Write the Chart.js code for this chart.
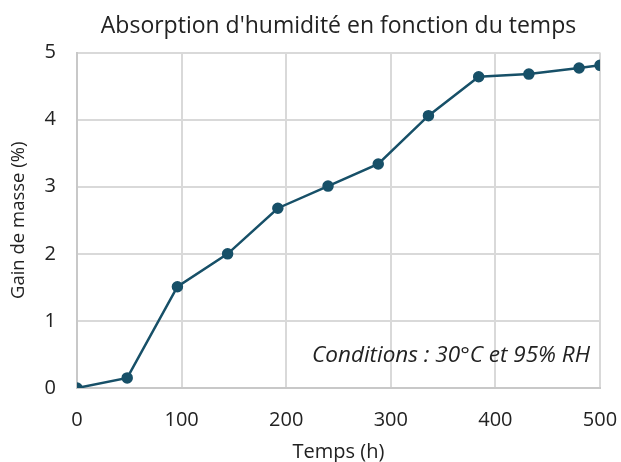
<!DOCTYPE html>
<html>
<head>
<meta charset="utf-8">
<script src="https://cdn.jsdelivr.net/npm/chart.js@4/dist/chart.umd.min.js"></script>
<style>
  html, body { margin: 0; padding: 0; background: #fff; }
  #wrap { width: 621px; height: 462px; }
</style>
</head>
<body>
<div id="wrap"><canvas id="c" width="621" height="462"></canvas></div>
<script>
const hours = [0, 48, 96, 144, 192, 240, 288, 336, 384, 432, 480, 500];
const massGain = [0, 0.15, 1.51, 2.0, 2.68, 3.01, 3.34, 4.06, 4.64, 4.68, 4.77, 4.81];
const chartTitle = "Absorption d'humidité en fonction du temps";
const xTitle = 'Temps (h)';
const yTitle = 'Gain de masse (%)';
const note = 'Conditions : 30°C et 95% RH';

const lineColor = '#175068';
const gridColor = '#d9d9d9';
const textColor = '#222';
const fontFamily = '"Open Sans", Lato, sans-serif';

const notePlugin = {
  id: 'note',
  afterDatasetsDraw(chart) {
    const { ctx, chartArea } = chart;
    ctx.save();
    ctx.font = 'italic 22.5px ' + fontFamily;
    ctx.fillStyle = textColor;
    ctx.textAlign = 'right';
    ctx.textBaseline = 'middle';
    ctx.fillText(note, chartArea.right - 10, chartArea.bottom - 32);
    ctx.restore();
  }
};

new Chart(document.getElementById('c'), {
  type: 'line',
  data: {
    datasets: [{
      data: hours.map((h, i) => ({ x: h, y: massGain[i] })),
      borderColor: lineColor,
      backgroundColor: lineColor,
      borderWidth: 2.5,
      pointRadius: 4.5,
      pointHoverRadius: 4.5,
      tension: 0,
      fill: false
    }]
  },
  options: {
    responsive: false,
    animation: false,
    layout: { padding: { left: 0, right: 21, top: 0, bottom: 0 } },
    plugins: {
      legend: { display: false },
      tooltip: { enabled: false },
      title: {
        display: true,
        fullSize: false,
        text: chartTitle,
        color: textColor,
        align: 'center',
        font: { family: fontFamily, size: 23, weight: 'normal' },
        padding: { top: 13, bottom: 12 }
      }
    },
    scales: {
      x: {
        type: 'linear',
        min: 0,
        max: 500,
        ticks: { stepSize: 100, color: textColor, padding: 20, font: { family: fontFamily, size: 20 } },
        grid: { color: gridColor, lineWidth: 2, drawTicks: false },
        border: { color: '#c8c8c8', width: 2 },
        title: { display: true, text: xTitle, color: textColor, font: { family: fontFamily, size: 20, lineHeight: 1 }, padding: { top: 4, bottom: 0 } },
        afterFit(scale) {
          scale.height = 74;
          scale.paddingLeft = 0;
          scale.paddingRight = 0;
        }
      },
      y: {
        min: 0,
        max: 5,
        ticks: { stepSize: 1, color: textColor, padding: 21, font: { family: fontFamily, size: 20 } },
        grid: { color: gridColor, lineWidth: 2, drawTicks: false },
        border: { color: '#c8c8c8', width: 2 },
        title: { display: true, text: yTitle, color: textColor, font: { family: fontFamily, size: 18.5 }, padding: { top: 8, bottom: 4 } },
        afterFit(scale) {
          scale.width = 77;
          scale.paddingTop = 0;
          scale.paddingBottom = 0;
        }
      }
    }
  },
  plugins: [notePlugin]
});
</script>
</body>
</html>
